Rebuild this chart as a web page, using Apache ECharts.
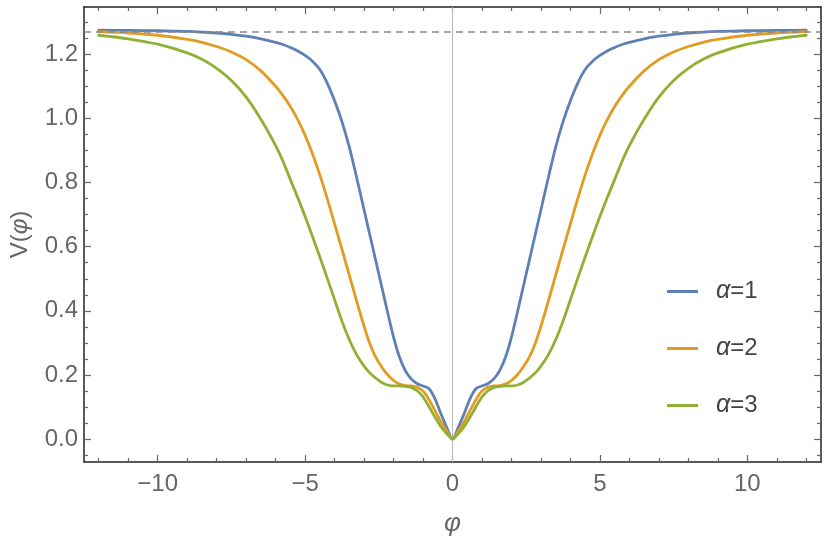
<!DOCTYPE html>
<html>
<head>
<meta charset="utf-8">
<script src="https://cdn.jsdelivr.net/npm/echarts@6/dist/echarts.min.js"></script>
<style>
  html, body { margin: 0; padding: 0; background: #fff; }
  #chart { width: 830px; height: 542px; }
</style>
</head>
<body>
<div id="chart"></div>
<script>
// φ sample positions (shared by all three curves)
const phi = [-12, -11, -10, -9, -8.5, -8, -7.5, -7, -6.5, -6, -5.75, -5.5, -5.25, -5, -4.75, -4.5, -4.25, -4, -3.75, -3.5, -3.25, -3,
  -2.8, -2.6, -2.4, -2.2, -2, -1.8, -1.6, -1.4, -1.2, -1, -0.8, -0.6, -0.4, -0.2,
  0,
  0.2, 0.4, 0.6, 0.8, 1, 1.2, 1.4, 1.6, 1.8, 2, 2.2, 2.4, 2.6, 2.8,
  3, 3.25, 3.5, 3.75, 4, 4.25, 4.5, 4.75, 5, 5.25, 5.5, 5.75, 6, 6.5, 7, 7.5, 8, 8.5, 9, 10, 11, 12];

// V(φ)
const alpha1 = [1.275, 1.274, 1.273, 1.271, 1.269, 1.266, 1.262, 1.256, 1.248, 1.237, 1.230, 1.221, 1.210, 1.196, 1.178, 1.152, 1.110, 1.055, 0.990, 0.910, 0.815, 0.715,
  0.635, 0.555, 0.475, 0.395, 0.318, 0.256, 0.214, 0.188, 0.173, 0.166, 0.158, 0.127, 0.081, 0.038,
  0,
  0.038, 0.081, 0.127, 0.158, 0.166, 0.173, 0.188, 0.214, 0.256, 0.318, 0.395, 0.475, 0.555, 0.635,
  0.715, 0.815, 0.910, 0.990, 1.055, 1.110, 1.152, 1.178, 1.196, 1.210, 1.221, 1.230, 1.237, 1.248, 1.256, 1.262, 1.266, 1.269, 1.271, 1.273, 1.274, 1.275];

const alpha2 = [1.270, 1.266, 1.259, 1.246, 1.237, 1.224, 1.207, 1.183, 1.148, 1.100, 1.071, 1.037, 0.996, 0.947, 0.890, 0.824, 0.750, 0.671, 0.592, 0.511, 0.430, 0.352,
  0.297, 0.255, 0.225, 0.201, 0.183, 0.172, 0.167, 0.166, 0.162, 0.150, 0.124, 0.090, 0.055, 0.026,
  0,
  0.026, 0.055, 0.090, 0.124, 0.150, 0.162, 0.166, 0.167, 0.172, 0.183, 0.201, 0.225, 0.255, 0.297,
  0.352, 0.430, 0.511, 0.592, 0.671, 0.750, 0.824, 0.890, 0.947, 0.996, 1.037, 1.071, 1.100, 1.148, 1.183, 1.207, 1.224, 1.237, 1.246, 1.259, 1.266, 1.270];

const alpha3 = [1.259, 1.248, 1.231, 1.204, 1.184, 1.156, 1.118, 1.066, 0.997, 0.915, 0.866, 0.809, 0.753, 0.694, 0.632, 0.568, 0.502, 0.435, 0.368, 0.310, 0.263, 0.228,
  0.206, 0.190, 0.177, 0.169, 0.166, 0.166, 0.165, 0.161, 0.151, 0.132, 0.102, 0.070, 0.040, 0.018,
  0,
  0.018, 0.040, 0.070, 0.102, 0.132, 0.151, 0.161, 0.165, 0.166, 0.166, 0.169, 0.177, 0.190, 0.206,
  0.228, 0.263, 0.310, 0.368, 0.435, 0.502, 0.568, 0.632, 0.694, 0.753, 0.809, 0.866, 0.915, 0.997, 1.066, 1.118, 1.156, 1.184, 1.204, 1.231, 1.248, 1.259];

const seriesNames = ['α=1', 'α=2', 'α=3'];
const asymptote = [1.2732];
const originLine = [0];

// ticks
const xMajorTicks = [-10, -5, 0, 5, 10];
const xMinorTicks = [-12, -11, -9, -8, -7, -6, -4, -3, -2, -1, 1, 2, 3, 4, 6, 7, 8, 9, 11, 12];
const yMajorTicks = [0, 0.2, 0.4, 0.6, 0.8, 1.0, 1.2];
const yMinorTicks = [-0.05, 0.05, 0.1, 0.15, 0.25, 0.3, 0.35, 0.45, 0.5, 0.55, 0.65, 0.7, 0.75, 0.85, 0.9, 0.95, 1.05, 1.1, 1.15, 1.25, 1.3];

const colors = ['#5E81B5', '#E19C24', '#8FB032'];
const FONT = '"Liberation Sans", Arial, sans-serif';
const frameColor = '#222';
const tickColor = '#666';
const X_MIN = -12.5, X_MAX = 12.5, Y_MIN = -0.071, Y_MAX = 1.347;

function xAx(position, ticks, len, showLine, showLabels) {
  return {
    type: 'value', position: position, min: X_MIN, max: X_MAX,
    axisLine: { show: showLine, onZero: false, lineStyle: { color: frameColor, width: 1.5 } },
    axisTick: { show: true, inside: true, length: len, customValues: ticks, lineStyle: { color: tickColor, width: 1.2 } },
    axisLabel: showLabels ? {
      show: true, customValues: ticks, fontSize: 24, color: '#666', fontFamily: FONT, margin: 10,
      formatter: v => (v < 0 ? '\u2212' + Math.abs(v) : String(v))
    } : { show: false },
    splitLine: { show: false }
  };
}
function yAx(position, ticks, len, showLine, showLabels) {
  return {
    type: 'value', position: position, min: Y_MIN, max: Y_MAX,
    axisLine: { show: showLine, onZero: false, lineStyle: { color: frameColor, width: 1.5 } },
    axisTick: { show: true, inside: true, length: len, customValues: ticks, lineStyle: { color: tickColor, width: 1.2 } },
    axisLabel: showLabels ? {
      show: true, customValues: ticks, fontSize: 24, color: '#666', fontFamily: FONT, margin: 6,
      formatter: v => v.toFixed(1)
    } : { show: false },
    splitLine: { show: false }
  };
}

const xAxes = [
  xAx('bottom', xMajorTicks, 7, true, true),
  xAx('bottom', xMinorTicks, 4, false, false),
  xAx('top', xMajorTicks, 7, true, false),
  xAx('top', xMinorTicks, 4, false, false)
];
xAxes[0].name = '{i|φ}';
xAxes[0].nameLocation = 'middle';
xAxes[0].nameGap = 49;
xAxes[0].nameTextStyle = { fontSize: 24, color: '#666', fontFamily: FONT, rich: { i: { fontStyle: 'italic', fontSize: 26, color: '#666', fontFamily: FONT } } };

const yAxes = [
  yAx('left', yMajorTicks, 7, true, true),
  yAx('left', yMinorTicks, 4, false, false),
  yAx('right', yMajorTicks, 7, true, false),
  yAx('right', yMinorTicks, 4, false, false)
];
yAxes[0].name = 'V({i|φ})';
yAxes[0].nameLocation = 'middle';
yAxes[0].nameGap = 52;
yAxes[0].nameTextStyle = { fontSize: 24, color: '#666', fontFamily: FONT, rich: { i: { fontStyle: 'italic', fontSize: 24, color: '#666', fontFamily: FONT } } };

const curves = [alpha1, alpha2, alpha3];
const series = curves.map((vals, k) => ({
  name: seriesNames[k],
  type: 'line',
  xAxisIndex: 0, yAxisIndex: 0,
  data: phi.map((x, i) => [x, vals[i]]),
  showSymbol: false, symbol: 'none',
  smooth: 0.25,
  lineStyle: { color: colors[k], width: 2.8, cap: 'round', join: 'round' },
  itemStyle: { color: colors[k] },
  z: 3 + k,
  animation: false
}));

series.push({
  type: 'line', xAxisIndex: 0, yAxisIndex: 0, data: [], silent: true, z: 1,
  markLine: {
    silent: true, symbol: 'none', animation: false,
    label: { show: false },
    data: [
      { yAxis: asymptote[0], lineStyle: { type: [7, 5], color: '#888', width: 1.6 } },
      { xAxis: originLine[0], lineStyle: { type: 'solid', color: '#b8b8b8', width: 1 } }
    ]
  }
});

const chart = echarts.init(document.getElementById('chart'), null, { renderer: 'canvas' });
chart.setOption({
  animation: false,
  backgroundColor: '#fff',
  grid: { left: 81, right: 9, top: 7, bottom: 77, containLabel: false },
  xAxis: xAxes,
  yAxis: yAxes,
  legend: {
    orient: 'vertical', left: 662, top: 274,
    icon: 'rect',
    itemWidth: 31, itemHeight: 3, itemGap: 32,
    data: seriesNames.map((n, k) => ({ name: n, icon: 'rect', itemStyle: { color: colors[k] } })),
    formatter: name => '{i|α}{n|' + name.slice(1) + '}',
    textStyle: {
      fontSize: 24, color: '#444', fontFamily: FONT, padding: [0, 0, 0, 13],
      rich: {
        i: { fontStyle: 'italic', fontSize: 25, color: '#444', fontFamily: FONT },
        n: { fontSize: 24, color: '#444', fontFamily: FONT }
      }
    }
  },
  series: series
});
</script>
</body>
</html>
